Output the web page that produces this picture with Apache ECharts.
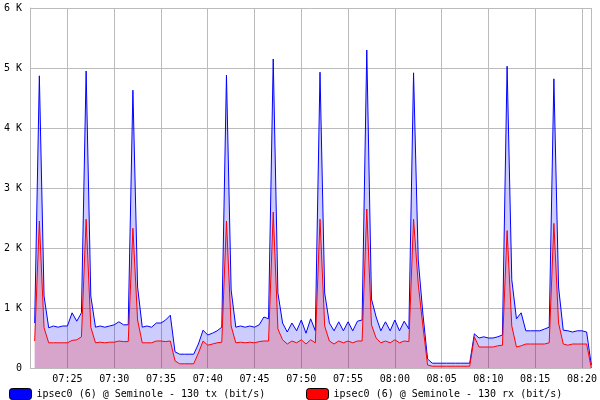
<!DOCTYPE html>
<html>
<head>
<meta charset="utf-8">
<script src="https://cdn.jsdelivr.net/npm/echarts@6/dist/echarts.min.js"></script>
<style>html,body{margin:0;padding:0;background:#fff}#main{width:600px;height:400px}</style>
</head>
<body>
<div id="main"></div>
<script>
// samples every 30 s, first one at 07:21:30 (minutes after 07:00)
var startMinute = 21.5;
var stepMinute = 0.5;

// tx (K bit/s)
var txValues = [
  0.75, 4.87, 1.2, 0.67, 0.70, 0.68, 0.70, 0.70, 0.92, 0.78, 0.92,
  4.95, 1.2, 0.68, 0.70, 0.68, 0.70, 0.72, 0.77, 0.72, 0.72,
  4.63, 1.35, 0.68, 0.70, 0.68, 0.75, 0.75, 0.80, 0.88,
  0.27, 0.23, 0.23, 0.23, 0.23, 0.40, 0.63, 0.55, 0.58, 0.62, 0.68,
  4.88, 1.3, 0.68, 0.70, 0.68, 0.70, 0.68, 0.72, 0.85, 0.82,
  5.15, 1.25, 0.75, 0.60, 0.75, 0.62, 0.80, 0.58, 0.82, 0.62,
  4.93, 1.25, 0.75, 0.62, 0.77, 0.62, 0.77, 0.62, 0.78, 0.80,
  5.3, 1.15, 0.85, 0.62, 0.77, 0.62, 0.80, 0.62, 0.78, 0.65,
  4.92, 1.8, 0.9, 0.15, 0.08, 0.08, 0.08, 0.08, 0.08, 0.08, 0.08, 0.08, 0.08,
  0.57, 0.50, 0.52, 0.50, 0.50, 0.52, 0.55,
  5.03, 1.47, 0.82, 0.92, 0.62, 0.62, 0.62, 0.62, 0.65, 0.68,
  4.82, 1.35, 0.63, 0.62, 0.60, 0.62, 0.62, 0.60, 0.05
];
// rx (K bit/s)
var rxValues = [
  0.45, 2.45, 0.67, 0.42, 0.42, 0.42, 0.42, 0.42, 0.46, 0.47, 0.52,
  2.48, 0.68, 0.42, 0.43, 0.42, 0.43, 0.43, 0.45, 0.44, 0.44,
  2.33, 0.80, 0.42, 0.42, 0.42, 0.45, 0.45, 0.44, 0.45,
  0.12, 0.07, 0.07, 0.07, 0.07, 0.25, 0.45, 0.38, 0.40, 0.42, 0.43,
  2.45, 0.70, 0.42, 0.43, 0.42, 0.43, 0.42, 0.44, 0.45, 0.45,
  2.6, 0.65, 0.47, 0.40, 0.45, 0.42, 0.47, 0.40, 0.47, 0.42,
  2.48, 0.70, 0.45, 0.40, 0.45, 0.42, 0.45, 0.42, 0.45, 0.45,
  2.65, 0.72, 0.50, 0.42, 0.45, 0.42, 0.47, 0.42, 0.45, 0.44,
  2.48, 1.4, 0.7, 0.05, 0.03, 0.03, 0.03, 0.03, 0.03, 0.03, 0.03, 0.03, 0.03,
  0.52, 0.35, 0.35, 0.35, 0.35, 0.37, 0.38,
  2.29, 0.70, 0.35, 0.37, 0.40, 0.40, 0.40, 0.40, 0.40, 0.42,
  2.41, 0.75, 0.40, 0.38, 0.40, 0.40, 0.40, 0.40, 0.0
];
var yTicks = [0, 1, 2, 3, 4, 5, 6];
var txName = 'ipsec0 (6) @ Seminole - 130 tx (bit/s)';
var rxName = 'ipsec0 (6) @ Seminole - 130 rx (bit/s)';

function pairs(vals) {
  return vals.map(function (v, i) { return [startMinute + i * stepMinute, v]; });
}
function pad(n) { return (n < 10 ? '0' : '') + n; }

var dom = document.getElementById('main');
var myChart = echarts.init(dom);
var font = 'DejaVu Sans Mono';

var option = {
  animation: false,
  textStyle: { fontFamily: font },
  grid: { left: 30, right: 3, top: 8, bottom: 32 },
  legend: [
    { data: [txName], left: 4, top: 383, itemWidth: 22, itemHeight: 11, icon: 'roundRect',
      itemStyle: { borderColor: '#000', borderWidth: 1 },
      textStyle: { fontFamily: font, fontSize: 10, color: '#000' } },
    { data: [rxName], left: 301, top: 383, itemWidth: 22, itemHeight: 11, icon: 'roundRect',
      itemStyle: { borderColor: '#000', borderWidth: 1 },
      textStyle: { fontFamily: font, fontSize: 10, color: '#000' } }
  ],
  xAxis: {
    type: 'value', min: 21, max: 81, minInterval: 5, maxInterval: 5,
    axisLine: { show: false }, axisTick: { show: false },
    splitLine: { lineStyle: { color: '#bbb' } },
    axisLabel: {
      showMinLabel: false, showMaxLabel: false, color: '#000', fontSize: 10, margin: 6,
      formatter: function (m) { return pad(7 + Math.floor(m / 60)) + ':' + pad(m % 60); }
    }
  },
  yAxis: {
    type: 'value', min: yTicks[0], max: yTicks[yTicks.length - 1], interval: 1,
    axisLine: { show: true, lineStyle: { color: '#bbb' } }, axisTick: { show: false },
    splitLine: { lineStyle: { color: '#bbb' } },
    axisLabel: { color: '#000', fontSize: 10, margin: 8,
      formatter: function (v) { return v === 0 ? '0' : v + ' K'; } }
  },
  series: [
    { name: txName, type: 'line', data: pairs(txValues), symbol: 'none',
      itemStyle: { color: '#0000ff' }, lineStyle: { color: '#0000ff', width: 1 },
      areaStyle: { color: 'rgba(0,0,255,0.2)', opacity: 1 } },
    { name: rxName, type: 'line', data: pairs(rxValues), symbol: 'none',
      itemStyle: { color: '#ff0000' }, lineStyle: { color: '#ff0000', width: 1 },
      areaStyle: { color: 'rgba(255,0,0,0.2)', opacity: 1 } }
  ]
};

if (option && typeof option === 'object') {
  myChart.setOption(option);
}
</script>
</body>
</html>
